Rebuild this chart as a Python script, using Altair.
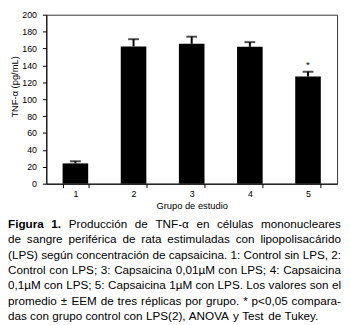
import altair as alt
import pandas as pd

# ---------------- data ----------------
groups = ["1", "2", "3", "4", "5"]
means = [24, 162.5, 165.5, 162, 127]
errors = [2.5, 8.5, 8.5, 5.5, 5.5]
marks = ["", "", "", "", "*"]
y_ticks = [0, 20, 40, 60, 80, 100, 120, 140, 160, 180, 200]

caption_lines = [
    [("Figura", True), ("1.", True), ("Producción", False), ("de", False), ("TNF-α", False),
     ("en", False), ("células", False), ("mononucleares", False)],
    "de sangre periférica de rata estimuladas con lipopolisacárido",
    "(LPS) según concentración de capsaicina. 1: Control sin LPS, 2:",
    "Control con LPS; 3: Capsaicina 0,01µM con LPS; 4: Capsaicina",
    "0,1µM con LPS; 5: Capsaicina 1µM con LPS. Los valores son el",
    "promedio ± EEM de tres réplicas por grupo. * p<0,05 compara-",
    "das con grupo control con LPS(2), ANOVA y Test de Tukey.",
]

# ---------------- layout ----------------
PLOT_W, PLOT_H = 296, 172
PAD_L, PAD_R, PAD_T, PAD_B = 39, 5, 4, 140
CAP_W = PLOT_W + PAD_L + PAD_R - 1
CAP_Y0 = 213
CAP_DY = 15.6
FONT = "Liberation Sans"

# Arial / Liberation Sans advance widths (1/1000 em)
REG = {" ": 278, "(": 333, ")": 333, "*": 389, ",": 278, "-": 333, ".": 278, "/": 278,
       ":": 278, ";": 278, "<": 584, "±": 584, "µ": 556, "α": 578,
       "A": 667, "C": 722, "E": 667, "F": 611, "L": 556, "M": 833, "N": 722, "O": 778,
       "P": 667, "S": 667, "T": 611, "V": 667, "Y": 667,
       "a": 556, "b": 556, "c": 500, "d": 556, "e": 556, "f": 278, "g": 556, "h": 556,
       "i": 222, "j": 222, "k": 500, "l": 222, "m": 833, "n": 556, "o": 556, "p": 556,
       "q": 556, "r": 333, "s": 500, "t": 278, "u": 556, "v": 500, "w": 722, "x": 500,
       "y": 500, "z": 500, "á": 556, "é": 556, "í": 278, "ó": 556, "ú": 556, "ñ": 556}
for d in "0123456789":
    REG[d] = 556
BOLD = {"F": 611, "i": 278, "g": 611, "u": 611, "r": 389, "a": 556, "1": 556, ".": 278, " ": 278}


def wwidth(word, bold, fs):
    tab = BOLD if bold else REG
    return sum(tab.get(ch, 556) for ch in word) * fs / 1000.0


lines = []
for ln in caption_lines:
    if isinstance(ln, str):
        lines.append([(w, False) for w in ln.split(" ")])
    else:
        lines.append(ln)

fs = 12.3
nat = [sum(wwidth(w, b, fs) for w, b in ln) + (len(ln) - 1) * 278 * fs / 1000 for ln in lines[:-1]]
if max(nat) > CAP_W:
    fs = fs * CAP_W / max(nat)

rows = []
for i, ln in enumerate(lines):
    widths = [wwidth(w, b, fs) for w, b in ln]
    if i < len(lines) - 1:
        gap = (CAP_W - sum(widths)) / (len(ln) - 1)
    else:
        gap = 278 * fs / 1000
    x = 0.0
    for (w, b), ww in zip(ln, widths):
        rows.append({"word": w, "bold": b, "px": x - PAD_L, "py": CAP_Y0 + i * CAP_DY})
        x += ww + gap
cap_df = pd.DataFrame(rows)

df = pd.DataFrame({"group": groups, "mean": means, "err": errors, "mark": marks})
df["top"] = df["mean"] + df["err"]

xscale = alt.Scale(paddingInner=0.56, paddingOuter=0.28)
xaxis = alt.Axis(labelAngle=0, tickBand="extent", tickSize=4, labelPadding=2,
                 titlePadding=2, labelFontSize=9, titleFontSize=9.5,
                 titleFontWeight="normal", labelColor="black", titleColor="black",
                 domainColor="black", tickColor="black", labelFont=FONT,
                 titleFont=FONT)
yscale = alt.Scale(domain=[0, 200], nice=False)
yaxis = alt.Axis(values=y_ticks, grid=False, tickSize=4, labelPadding=6,
                 labelOverlap=False, labelFontSize=9, titleFontSize=9.5,
                 titleFontWeight="normal",
                 labelColor="black", titleColor="black", domainColor="black",
                 tickColor="black", labelFont=FONT, titleFont=FONT,
                 titleX=-32, titleY=73, titleBaseline="middle", titleAlign="center")
XT = "Grupo de estudio"
YT = "TNF-α (pg/mL)"

base = alt.Chart(df)
bars = base.mark_bar(color="black").encode(
    x=alt.X("group:N", scale=xscale, axis=xaxis, title=XT),
    y=alt.Y("mean:Q", scale=yscale, axis=yaxis, title=YT))
stems = base.mark_rule(color="black", strokeWidth=2).encode(
    x=alt.X("group:N", scale=xscale, axis=xaxis, title=XT),
    y=alt.Y("mean:Q", scale=yscale, axis=yaxis, title=YT), y2="top:Q")
caps = base.mark_tick(color="black", size=11, thickness=2).encode(
    x=alt.X("group:N", scale=xscale, axis=xaxis, title=XT),
    y=alt.Y("top:Q", scale=yscale, axis=yaxis, title=YT))
stars = base.mark_text(font=FONT, fontSize=10, dy=-7, baseline="middle").encode(
    x=alt.X("group:N", scale=xscale, axis=xaxis, title=XT),
    y=alt.Y("top:Q", scale=yscale, axis=yaxis, title=YT), text="mark:N")

plot = alt.layer(bars, stems, caps, stars)

cap_bold = alt.Chart(cap_df[cap_df["bold"]]).mark_text(
    font=FONT, fontSize=fs, fontWeight="bold", align="left", baseline="middle",
    color="black").encode(
    x=alt.X("px:Q", scale=None, axis=None), y=alt.Y("py:Q", scale=None, axis=None),
    text="word:N")
cap_reg = alt.Chart(cap_df[~cap_df["bold"]]).mark_text(
    font=FONT, fontSize=fs, align="left", baseline="middle", color="black").encode(
    x=alt.X("px:Q", scale=None, axis=None), y=alt.Y("py:Q", scale=None, axis=None),
    text="word:N")

chart = alt.layer(plot, cap_bold, cap_reg).resolve_scale(
    x="independent", y="independent").properties(
    width=PLOT_W, height=PLOT_H,
    autosize=alt.AutoSizeParams(type="none"),
    padding={"left": PAD_L, "top": PAD_T, "right": PAD_R, "bottom": PAD_B},
    background="white",
).configure_view(stroke="#333333", strokeWidth=1).configure_axis(
    labelOverlap=False, labelBound=False)

chart.save("out.html", embed_options={"renderer": "svg", "actions": False})
